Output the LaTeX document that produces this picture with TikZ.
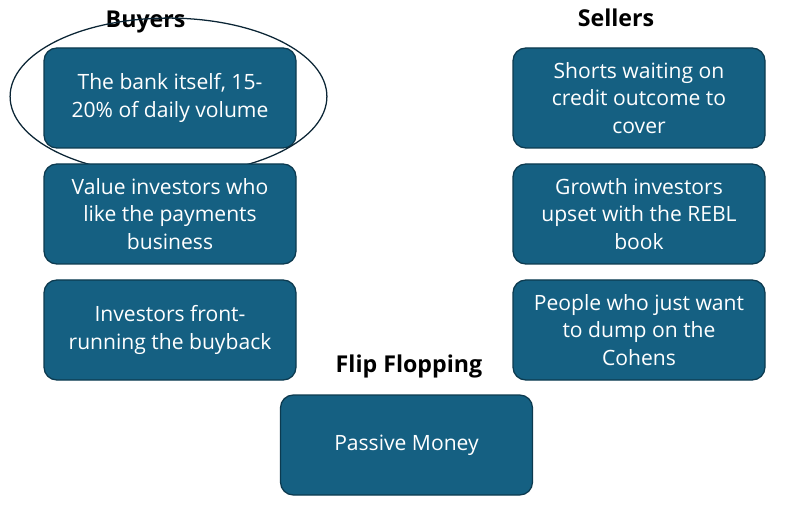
\documentclass[tikz,border=0pt]{standalone}
\usepackage{fontspec}
\setmainfont{Open Sans}
\usetikzlibrary{positioning}
\definecolor{boxfill}{HTML}{156082}
\definecolor{boxedge}{HTML}{0C3A4F}
\definecolor{ringline}{HTML}{0B2535}
\begin{document}
\begin{tikzpicture}[node distance=2.9cm,
  box/.style={draw=boxedge,line width=0.9pt,fill=boxfill,rounded corners=0.32cm,text=white,align=center,minimum width=6.3cm,minimum height=2.5cm,font=\fontsize{15}{19.8}\selectfont},
  head/.style={font=\bfseries\fontsize{16.5}{19}\selectfont}]
  \useasboundingbox (0,0) rectangle (19.725,-12.625);
  \node[head] (buy) at (3.64,-0.55){Buyers};
  \node[head] (sell) at (15.4,-0.45){Sellers};
  \node[head] (flip) at (10.225,-9.15){Flip Flopping};

  \node[box] (b1) at (4.25,-2.45){The bank itself, 15-\\20\% of daily volume};
  \draw[ringline,line width=0.9pt] (4.2125,-2.4125) ellipse (3.96cm and 1.96cm);
  \node[box,below of =b1] (b2){Value investors who\\like the payments\\business};
  \node[box,below of =b2] (b3){Investors front-\\running the buyback};

  \node[box] (s1) at (15.975,-2.45){Shorts waiting on\\credit outcome to\\cover};
  \node[box,below of =s1] (s2){Growth investors\\upset with the REBL\\book};
  \node[box,below of =s2] (s3){People who just want\\to dump on the\\Cohens};

  \node[box] (p1) at (10.1625,-11.125){Passive Money};
\end{tikzpicture}
\end{document}
